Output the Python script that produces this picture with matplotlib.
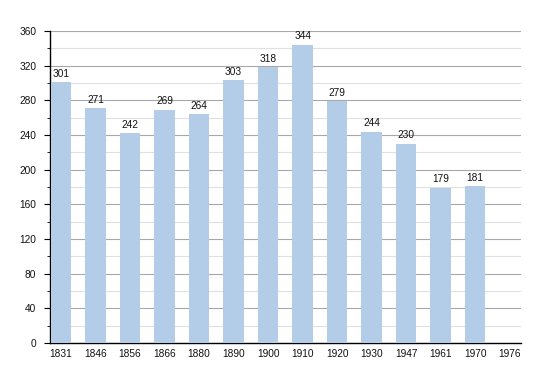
import matplotlib
matplotlib.use("Agg")
import matplotlib.pyplot as plt
from matplotlib.ticker import MultipleLocator

years = ["1831", "1846", "1856", "1866", "1880", "1890", "1900", "1910",
         "1920", "1930", "1947", "1961", "1970", "1976"]
population = [301, 271, 242, 269, 264, 303, 318, 344, 279, 244, 230, 179, 181, None]

plt.rcParams['font.family'] = ['Liberation Sans', 'DejaVu Sans']

fig = plt.figure(figsize=(5.5, 3.73), dpi=100)
ax = fig.add_axes([50/550, 1-343/373, 471/550, (343-31)/373])

xs = list(range(len(years)))
vals = [v if v is not None else 0 for v in population]
bars = ax.bar(xs, vals, width=0.6, color="#b3cde8", zorder=3)
for x, v in zip(xs, population):
    if v is not None:
        ax.text(x, v + 4, str(v), ha="center", va="bottom", fontsize=7.3, color="#111111", zorder=4)

ax.set_xlim(-0.32, 13.33)
ax.set_ylim(0, 360)
ax.yaxis.set_major_locator(MultipleLocator(40))
ax.yaxis.set_minor_locator(MultipleLocator(20))
ax.grid(axis="y", which="major", color="#a8a8a8", linewidth=0.8, zorder=0)
ax.grid(axis="y", which="minor", color="#e0e0e0", linewidth=0.8, zorder=0)
ax.set_xticks(xs)
ax.set_xticklabels(years)
ax.tick_params(axis="x", length=0, labelsize=7.3, pad=4, labelcolor="#111111")
ax.tick_params(axis="y", which="major", length=4, labelsize=7.3, pad=6, labelcolor="#111111")
ax.tick_params(axis="y", which="minor", length=2)
for s in ["top", "right"]:
    ax.spines[s].set_visible(False)
ax.spines["left"].set_linewidth(1)
ax.spines["bottom"].set_linewidth(1)

fig.savefig("out.png", dpi=100)
